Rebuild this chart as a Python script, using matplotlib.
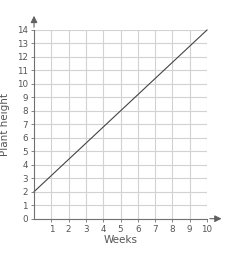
import numpy as np
import matplotlib.pyplot as plt

weeks = [0, 10]
height = [2, 14]
x_ticks = list(range(1, 11))
y_ticks = list(range(0, 15))

fig = plt.figure(figsize=(2.43, 2.54), dpi=100)
ax = fig.add_axes([0.14, 0.139, 0.712, 0.743])

ax.set_xlim(0, 10)
ax.set_ylim(0, 14)
ax.set_xticks(x_ticks)
ax.set_yticks(y_ticks)
ax.grid(True, color='#d2d2d2', linewidth=0.8)
ax.set_axisbelow(True)

for s in ['top', 'right']:
    ax.spines[s].set_visible(False)
for s in ['left', 'bottom']:
    ax.spines[s].set_color('#707070')
    ax.spines[s].set_linewidth(0.8)

ax.tick_params(colors='#707070', labelcolor='#555555', labelsize=6.3,
               length=2.5, width=0.6, pad=2)

# стрелки на осях
ax.annotate('', xy=(1.1, 0), xytext=(1.0, 0), xycoords='axes fraction',
            arrowprops=dict(arrowstyle='-|>', color='#606060', lw=0.8,
                            mutation_scale=10))
ax.annotate('', xy=(0, 1.09), xytext=(0, 1.0), xycoords='axes fraction',
            arrowprops=dict(arrowstyle='-|>', color='#606060', lw=0.8,
                            mutation_scale=10))

ax.plot(weeks, height, color='#444444', linewidth=0.8, clip_on=False)

ax.set_xlabel('Weeks', fontsize=7.5, color='#555555', labelpad=1)
ax.set_ylabel('Plant height', fontsize=7.5, color='#555555', labelpad=5)

fig.savefig('out.png', dpi=100)
